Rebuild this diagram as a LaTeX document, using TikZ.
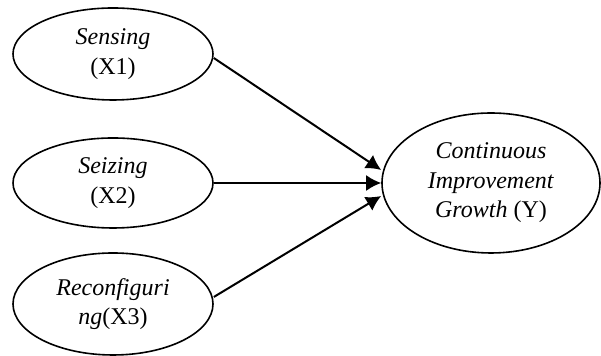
\documentclass[tikz,border=0pt]{standalone}
\usepackage{fontspec}
\setmainfont{Liberation Serif}
\usetikzlibrary{shapes.geometric,arrows.meta,positioning}

\begin{document}
\begin{tikzpicture}[x=0.5pt,y=-0.5pt]

% Stiler
\tikzstyle{var} = [ellipse, draw, thick, minimum width=100pt, minimum height=46pt, inner sep=0pt, align=center, font=\fontsize{12}{14.8}\selectfont]
\tikzstyle{pil} = [line width=1pt, -{Latex[length=7.5pt,width=8pt]}]

	\useasboundingbox (0,0) rectangle (601,356);

	% Uavhengige variabler
	\node[var] (sensing) at (113,54) {\textit{Sensing}\\(X1)};
	\node[var, minimum height=45pt] (seizing) [below of=sensing, node distance=64.5pt] {\textit{Seizing}\\(X2)};
	\node[var, minimum height=51pt] (reconf) [below of=seizing, node distance=60.5pt] {\textit{Reconfiguri}\\\textit{ng}(X3)};

	% Avhengig variabel
	\node[var, minimum width=109pt, minimum height=70pt] (growth) [right of=seizing, node distance=189pt] {\textit{Continuous}\\\textit{Improvement}\\\textit{Growth} (Y)};

	% Piler
	\coordinate (tip1) at ([yshift=6.5pt]growth.west);
	\coordinate (tip3) at ([yshift=-6.5pt]growth.west);
	\draw[pil] ([yshift=-2pt]sensing.east) -- (tip1);
	\draw[pil] (seizing.east) -- (growth.west);
	\draw[pil] ([yshift=3.5pt]reconf.east) -- (tip3);

\end{tikzpicture}
\end{document}
